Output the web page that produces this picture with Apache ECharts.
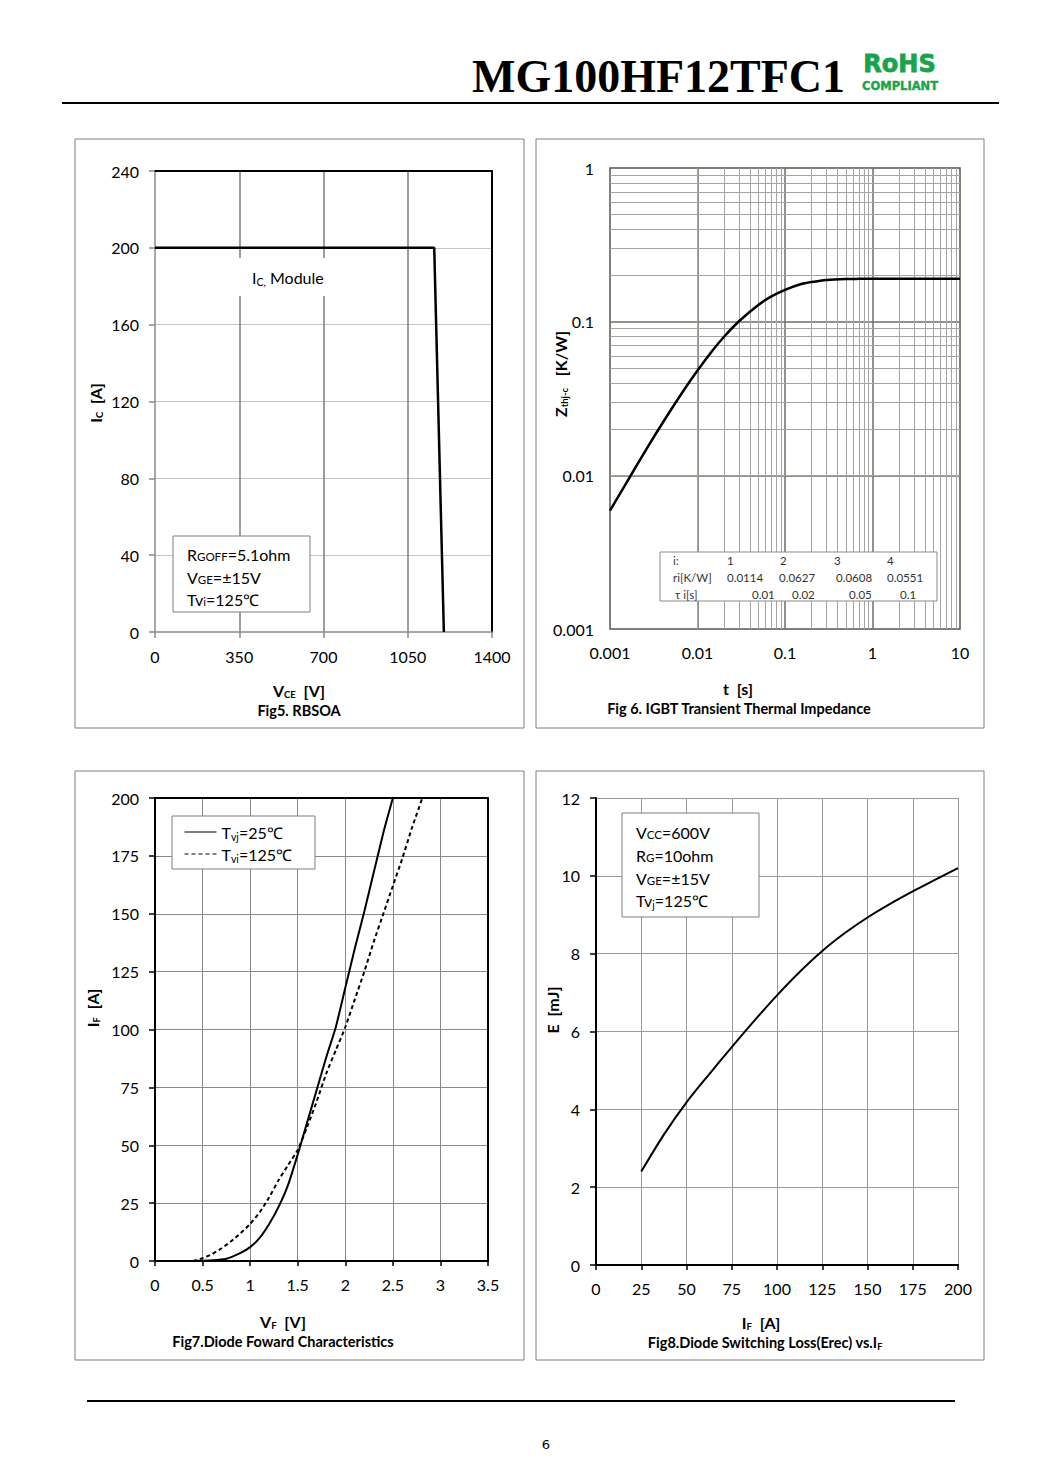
<!DOCTYPE html>
<html><head><meta charset="utf-8">
<script src="https://cdn.jsdelivr.net/npm/echarts@6/dist/echarts.min.js"></script>
<style>html,body{margin:0;padding:0;background:#fff}#c{width:1060px;height:1484px}</style>
</head><body><div id="c"></div>
<script>
// ---------- DATA ----------
const fig5XTicks = [0, 350, 700, 1050, 1400];
const fig5YTicks = [0, 40, 80, 120, 160, 200, 240];
const fig5Vce = [0, 1160, 1200];
const fig5Ic  = [200, 200, 0];

const fig6XTicks = ['0.001', '0.01', '0.1', '1', '10'];
const fig6YTicks = ['0.001', '0.01', '0.1', '1'];
const fig6T = [0.001, 0.002, 0.003, 0.005, 0.007, 0.01, 0.015, 0.02, 0.03, 0.05, 0.07, 0.1, 0.15, 0.2, 0.3, 0.5, 0.7, 1, 2, 5, 10];
const fig6Z = [0.0059, 0.0115, 0.0169, 0.0268, 0.0359, 0.0481, 0.0654, 0.0795, 0.101, 0.129, 0.146, 0.161, 0.175, 0.181, 0.187, 0.1896, 0.1899, 0.19, 0.19, 0.19, 0.19];
const fig6TableHead = ['i:', '1', '2', '3', '4'];
const fig6TableRi   = ['ri[K/W]', '0.0114', '0.0627', '0.0608', '0.0551'];
const fig6TableTau  = ['τ i[s]', '0.01', '0.02', '0.05', '0.1'];

const fig7XTicks = [0, 0.5, 1, 1.5, 2, 2.5, 3, 3.5];
const fig7YTicks = [0, 25, 50, 75, 100, 125, 150, 175, 200];
const fig7Vf25  = [0.4, 0.6, 0.75, 0.9, 1.0, 1.1, 1.2, 1.3, 1.4, 1.5, 1.6, 1.7, 1.8, 1.9, 2.0, 2.1, 2.2, 2.3, 2.4, 2.5];
const fig7If25  = [0, 0.3, 1, 3.5, 6, 10, 16, 23.5, 33, 46, 60, 74, 88, 101, 118, 135, 151, 168, 185, 200];
const fig7Vf125 = [0.4, 0.5, 0.6, 0.7, 0.8, 0.9, 1.0, 1.1, 1.2, 1.3, 1.4, 1.5, 1.6, 1.7, 1.8, 1.9, 2.0, 2.1, 2.2, 2.3, 2.4, 2.5, 2.6, 2.7, 2.81];
const fig7If125 = [0, 1.2, 3, 5.5, 8.5, 12, 16, 21, 27.5, 35, 41.5, 48, 58, 69, 81, 91, 101, 113, 125, 138, 150, 162, 174, 187, 200];

const fig8XTicks = [0, 25, 50, 75, 100, 125, 150, 175, 200];
const fig8YTicks = [0, 2, 4, 6, 8, 10, 12];
const fig8If = [25, 37.5, 50, 62.5, 75, 87.5, 100, 112.5, 125, 137.5, 150, 162.5, 175, 187.5, 200];
const fig8E  = [2.4, 3.35, 4.18, 4.9, 5.6, 6.28, 6.93, 7.53, 8.07, 8.53, 8.93, 9.28, 9.6, 9.9, 10.2];

const logMinorMult = [2, 3, 4, 5, 6, 7, 8, 9];
const fig6XDecades = [0.001, 0.01, 0.1, 1];
const fig6YDecades = [0.001, 0.01, 0.1];

// ---------- HELPERS ----------
const F = 'Lato, "Open Sans", sans-serif';
const zip = (a, b) => a.map((v, i) => [v, b[i]]);
const step = t => t[1] - t[0];

const richG = {
  n:  {fontFamily: F, fontSize: 16, fill: '#000'},
  s:  {fontFamily: F, fontSize: 10.5, fill: '#000', padding: [9, 0, 0, 0]},
  c:  {fontFamily: F, fontSize: 11.5, fill: '#000', padding: [4, 0, 0, 0]},
  nb: {fontFamily: F, fontSize: 16, fontWeight: 'bold', fill: '#000'},
  sb: {fontFamily: F, fontSize: 9.5, fontWeight: 'bold', fill: '#000', padding: [9, 0, 0, 0]},
  cap:{fontFamily: F, fontSize: 14.5, fontWeight: 'bold', fill: '#000'},
  capS:{fontFamily: F, fontSize: 9, fontWeight: 'bold', fill: '#000', padding: [8, 0, 0, 0]}
};
function txt(x, y, text, opt) {
  opt = opt || {};
  return {
    type: 'text', x: x, y: y, z: 20, rotation: opt.rot || 0,
    style: Object.assign({
      text: text, rich: richG, fontFamily: F, fontSize: opt.size || 15,
      fontWeight: opt.bold ? 'bold' : 'normal', fill: opt.color || '#000',
      align: opt.align || 'left', verticalAlign: 'middle'
    }, opt.style || {})
  };
}
function rect(x, y, w, h, stroke, fill, lw) {
  return {type: 'rect', z: 15, shape: {x: x, y: y, width: w, height: h},
    style: {stroke: stroke, fill: fill || 'none', lineWidth: lw || 1}};
}
function hline(x1, x2, y, w) {
  return {type: 'line', z: 15, shape: {x1: x1, y1: y, x2: x2, y2: y}, style: {stroke: '#000', lineWidth: w}};
}

const tickLabel = {fontFamily: F, fontSize: 16, color: '#000', formatter: v => String(v)};

function valX(grid, ticks, o) {
  return Object.assign({
    type: 'value', gridIndex: grid, min: ticks[0], max: ticks[ticks.length - 1], interval: step(ticks),
    axisLine: {show: true, onZero: false, lineStyle: {color: '#000', width: 2}},
    axisTick: {show: true, length: 5, lineStyle: {color: '#000', width: 1.5}},
    axisLabel: Object.assign({margin: 15}, tickLabel),
    splitLine: {show: true, showMinLine: false, lineStyle: {color: '#8a8a8a', width: 1}}
  }, o || {});
}
function valY(grid, ticks, o) {
  return Object.assign({
    type: 'value', gridIndex: grid, min: ticks[0], max: ticks[ticks.length - 1], interval: step(ticks),
    axisLine: {show: true, onZero: false, lineStyle: {color: '#000', width: 2}},
    axisTick: {show: true, length: 6, lineStyle: {color: '#000', width: 1.5}},
    axisLabel: Object.assign({margin: 16}, tickLabel),
    splitLine: {show: true, showMinLine: false, lineStyle: {color: '#8a8a8a', width: 1}}
  }, o || {});
}
function frameAxis(grid, ticks, pos) {
  return {type: 'value', gridIndex: grid, position: pos, min: ticks[0], max: ticks[ticks.length - 1],
    axisLine: {show: true, onZero: false, lineStyle: {color: '#000', width: 2}},
    axisTick: {show: false}, axisLabel: {show: false}, splitLine: {show: false}};
}

// minor grid lines for the log chart (gridline positions, not data)
const fig6Minor = [];
fig6XDecades.forEach(d => logMinorMult.forEach(m => fig6Minor.push({xAxis: d * m})));
fig6YDecades.forEach(d => logMinorMult.forEach(m => fig6Minor.push({yAxis: d * m})));

const logLabel = list => v => list.find(t => Math.abs(Math.log10(+t) - Math.log10(v)) < 1e-6) || String(v);

// ---------- CHART ----------
const chart = echarts.init(document.getElementById('c'), null, {renderer: 'svg', width: 1060, height: 1484});

const tcol = {size: 11.5, color: '#333'};
const option = {
  backgroundColor: '#fff',
  animation: false,
  grid: [
    {left: 155, top: 171, width: 337, height: 461},
    {left: 610, top: 168, width: 350, height: 461, show: true, borderColor: '#55554a', borderWidth: 1.5},
    {left: 155, top: 798, width: 333, height: 463},
    {left: 596, top: 798, width: 362, height: 467}
  ],
  xAxis: [
    valX(0, fig5XTicks, {
      axisLine: {show: true, onZero: false, lineStyle: {color: '#8a8a8a', width: 1.5}},
      axisTick: {show: true, length: 6, lineStyle: {color: '#8a8a8a', width: 1.5}},
      axisLabel: Object.assign({}, tickLabel, {margin: 16}),
      splitLine: {show: true, showMinLine: false, showMaxLine: false, lineStyle: {color: '#7d7d7d', width: 1.5}}
    }),
    frameAxis(0, fig5XTicks, 'top'),
    {type: 'log', logBase: 10, gridIndex: 1, min: 0.001, max: 10,
      axisLine: {show: false}, axisTick: {show: false},
      axisLabel: Object.assign({}, tickLabel, {margin: 15, formatter: logLabel(fig6XTicks)}),
      splitLine: {show: true, showMinLine: false, showMaxLine: false, lineStyle: {color: '#6f6f66', width: 1.5}}},
    valX(2, fig7XTicks, {splitLine: {show: true, showMinLine: false, showMaxLine: false, lineStyle: {color: '#8a8a8a', width: 1}}}),
    frameAxis(2, fig7XTicks, 'top'),
    valX(3, fig8XTicks, {splitLine: {show: true, showMinLine: false, lineStyle: {color: '#9a9a9a', width: 1}}})
  ],
  yAxis: [
    valY(0, fig5YTicks, {
      axisLine: {show: true, onZero: false, lineStyle: {color: '#8a8a8a', width: 1.5}},
      axisTick: {show: true, length: 6, lineStyle: {color: '#8a8a8a', width: 1.5}},
      splitLine: {show: true, showMinLine: false, showMaxLine: false, lineStyle: {color: '#c4c4c4', width: 1}}
    }),
    frameAxis(0, fig5YTicks, 'right'),
    {type: 'log', logBase: 10, gridIndex: 1, min: 0.001, max: 1,
      axisLine: {show: false}, axisTick: {show: false},
      axisLabel: Object.assign({}, tickLabel, {margin: 16, formatter: logLabel(fig6YTicks)}),
      splitLine: {show: true, showMinLine: false, showMaxLine: false, lineStyle: {color: '#6f6f66', width: 1.5}}},
    valY(2, fig7YTicks, {splitLine: {show: true, showMinLine: false, showMaxLine: false, lineStyle: {color: '#8a8a8a', width: 1}}}),
    frameAxis(2, fig7YTicks, 'right'),
    valY(3, fig8YTicks, {splitLine: {show: true, showMinLine: false, lineStyle: {color: '#9a9a9a', width: 1}}})
  ],
  legend: {
    data: ['Tvj=25℃', 'Tvi=125℃'],
    left: 172, top: 816, orient: 'vertical',
    itemWidth: 32, itemHeight: 12, itemGap: 4,
    padding: [8, 23, 5, 12],
    backgroundColor: '#fff', borderColor: '#7f7f7f', borderWidth: 1, borderRadius: 0,
    lineStyle: {width: 1},
    itemStyle: {color: 'transparent', borderColor: 'transparent', borderWidth: 0},
    formatter: n => n === 'Tvj=25℃' ? '{n|T}{s|vj}{n|=25℃}' : '{n|T}{s|vi}{n|=125℃}',
    textStyle: {rich: {
      n: {fontFamily: F, fontSize: 16, color: '#000'},
      s: {fontFamily: F, fontSize: 10.5, color: '#000', padding: [9, 0, 0, 0]}
    }},
    z: 20
  },
  series: [
    {type: 'line', name: 'RBSOA', xAxisIndex: 0, yAxisIndex: 0, data: zip(fig5Vce, fig5Ic),
      symbol: 'none', lineStyle: {color: '#000', width: 2.5}, z: 5},
    {type: 'line', name: 'minor', xAxisIndex: 2, yAxisIndex: 2, data: [], symbol: 'none', z: 1,
      markLine: {silent: true, symbol: 'none', label: {show: false}, animation: false,
        lineStyle: {color: '#a4a4a4', width: 1, type: 'solid'}, emphasis: {disabled: true}, data: fig6Minor}},
    {type: 'line', name: 'Zth', xAxisIndex: 2, yAxisIndex: 2, data: zip(fig6T, fig6Z),
      symbol: 'none', smooth: 0.3, lineStyle: {color: '#000', width: 2.5}, z: 5},
    {type: 'line', name: 'Tvj=25℃', xAxisIndex: 3, yAxisIndex: 3, data: zip(fig7Vf25, fig7If25),
      symbol: 'none', smooth: 0.2, color: '#000', lineStyle: {color: '#000', width: 2}, z: 5},
    {type: 'line', name: 'Tvi=125℃', xAxisIndex: 3, yAxisIndex: 3, data: zip(fig7Vf125, fig7If125),
      symbol: 'none', smooth: 0.2, color: '#000', lineStyle: {color: '#000', width: 2, type: [4, 3]}, z: 5},
    {type: 'line', name: 'Erec', xAxisIndex: 5, yAxisIndex: 5, data: zip(fig8If, fig8E),
      symbol: 'none', smooth: 0.3, lineStyle: {color: '#000', width: 2}, z: 5}
  ],
  graphic: {elements: [
    // header
    txt(472, 76, 'MG100HF12TFC1', {style: {fontFamily: '"Liberation Serif", serif', fontSize: 46, fontWeight: 'bold', rich: null}}),
    txt(899.5, 64, 'RoHS', {align: 'center', style: {fontFamily: '"DejaVu Sans", sans-serif', fontSize: 24, fontWeight: 'bold', fill: '#1ba34b', stroke: '#1ba34b', lineWidth: 0.8, rich: null}}),
    txt(900, 85.5, 'COMPLIANT', {align: 'center', style: {fontFamily: '"DejaVu Sans", sans-serif', fontSize: 11.5, fontWeight: 'bold', fill: '#1ba34b', stroke: '#1ba34b', lineWidth: 0.4, rich: null}}),
    hline(62, 999, 103, 2),
    // panel frames
    rect(75, 139, 449, 589, '#7f7f7f'),
    rect(536, 139, 448, 589, '#7f7f7f'),
    rect(75, 771, 449, 589, '#7f7f7f'),
    rect(536, 771, 448, 589, '#7f7f7f'),
    // Fig5 texts
    txt(239, 277, '{n|I}{s|C,}{n| Module}', {style: {backgroundColor: '#fff', padding: [9, 2, 9, 13]}}),
    rect(173, 536, 137, 76, '#7f7f7f', '#fff'),
    txt(187, 554, '{n|R}{c|GOFF}{n|=5.1ohm}'),
    txt(187, 577, '{n|V}{c|GE}{n|=±15V}'),
    txt(187, 599, '{n|Tv}{c|i}{n|=125℃}'),
    txt(95, 403, '{nb|I}{sb|C}{nb|  [A]}', {align: 'center', rot: Math.PI / 2}),
    txt(299, 690, '{nb|V}{sb|CE}{nb|  [V]}', {align: 'center'}),
    txt(299, 710, '{cap|Fig5. RBSOA}', {align: 'center'}),
    // Fig6 texts
    rect(660, 552, 277, 49, '#8a8a8a', '#fff'),
    txt(673, 560, fig6TableHead[0], tcol),
    txt(727, 560, fig6TableHead[1], tcol),
    txt(780, 560, fig6TableHead[2], tcol),
    txt(834, 560, fig6TableHead[3], tcol),
    txt(887, 560, fig6TableHead[4], tcol),
    txt(673, 577, fig6TableRi[0], tcol),
    txt(727, 577, fig6TableRi[1], tcol),
    txt(779, 577, fig6TableRi[2], tcol),
    txt(836, 577, fig6TableRi[3], tcol),
    txt(887, 577, fig6TableRi[4], tcol),
    txt(675, 594, fig6TableTau[0], tcol),
    txt(752, 594, fig6TableTau[1], tcol),
    txt(792, 594, fig6TableTau[2], tcol),
    txt(849, 594, fig6TableTau[3], tcol),
    txt(900, 594, fig6TableTau[4], tcol),
    txt(560, 374, '{nb|Z}{sb|thj-c}{nb|   [K/W]}', {align: 'center', rot: Math.PI / 2}),
    txt(738, 688, '{nb|t  [s]}', {align: 'center'}),
    txt(739, 708, '{cap|Fig 6. IGBT Transient Thermal Impedance}', {align: 'center'}),
    // Fig7 texts
    txt(92, 1008, '{nb|I}{sb|F}{nb|  [A]}', {align: 'center', rot: Math.PI / 2}),
    txt(283, 1321, '{nb|V}{sb|F}{nb|  [V]}', {align: 'center'}),
    txt(283, 1341, '{cap|Fig7.Diode Foward Characteristics}', {align: 'center'}),
    // Fig8 texts
    rect(622, 813, 137, 104, '#7f7f7f', '#fff'),
    txt(636, 832, '{n|V}{c|CC}{n|=600V}'),
    txt(636, 855, '{n|R}{c|G}{n|=10ohm}'),
    txt(636, 878, '{n|V}{c|GE}{n|=±15V}'),
    txt(636, 900, '{n|Tv}{s|j}{n|=125℃}'),
    txt(552, 1010, '{nb|E  [mJ]}', {align: 'center', rot: Math.PI / 2}),
    txt(761, 1322, '{nb|I}{sb|F}{nb|  [A]}', {align: 'center'}),
    txt(765, 1342, '{cap|Fig8.Diode Switching Loss(Erec) vs.I}{capS|F}', {align: 'center'}),
    // footer
    hline(87, 955, 1401, 2),
    txt(546, 1444, '6', {align: 'center', style: {fontFamily: '"DejaVu Sans", sans-serif', fontSize: 13, rich: null}})
  ]}
};
chart.setOption(option);
</script></body></html>
